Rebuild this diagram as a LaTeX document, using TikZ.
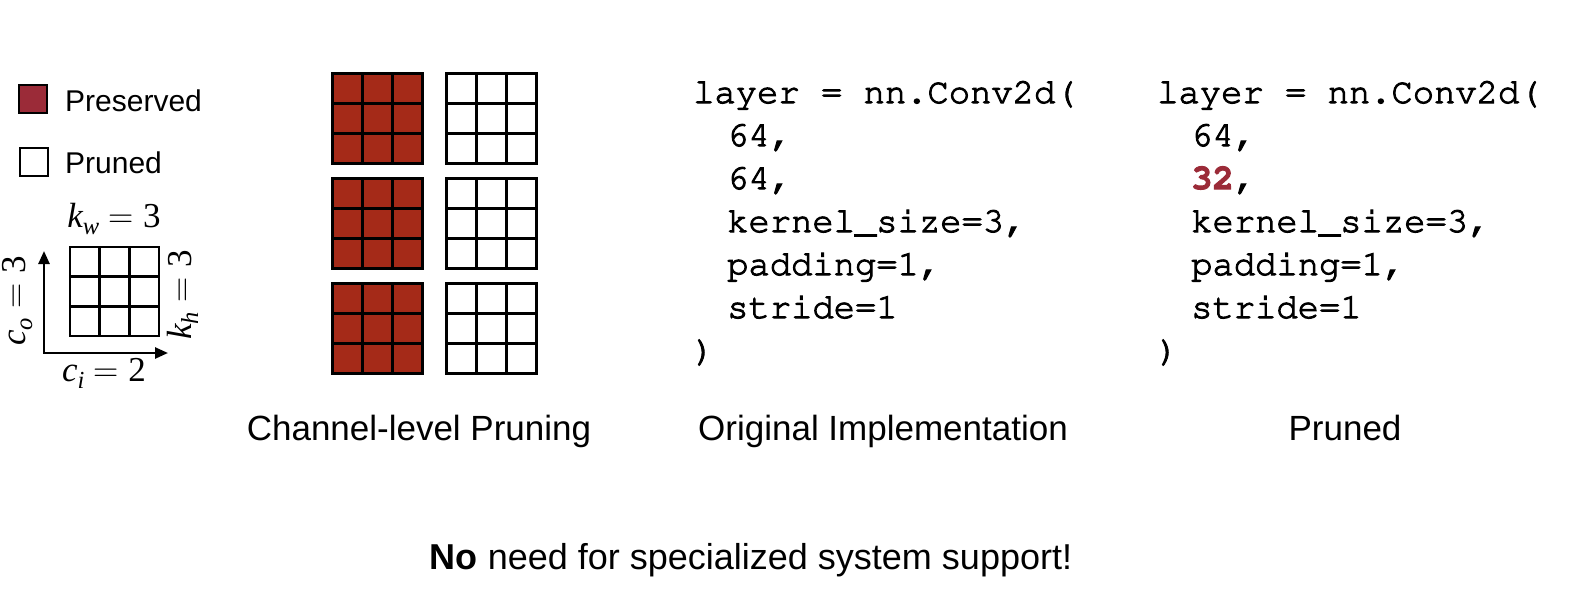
\documentclass[tikz,border=0pt]{standalone}
\usepackage[T1]{fontenc}
\usepackage{fontspec}
\setmainfont{Liberation Sans}
\newfontfamily\tms{Liberation Serif}
\newfontfamily\lmr{Latin Modern Roman}
\newcommand\codefont{\fontencoding{T1}\fontfamily{pcr}\fontseries{m}\selectfont}
\makeatletter
\newcommand\thickon{\pgfsys@invoke{ 2 Tr 1.0 w }}
\newcommand\thickoff{\pgfsys@invoke{ 0 Tr }}
\makeatother
\usetikzlibrary{arrows.meta}
\definecolor{chred}{RGB}{165,42,24}
\definecolor{legred}{RGB}{155,43,56}
\newcommand\mv[2]{{\itshape #1}\raisebox{-0.2em}{\fontsize{24.5}{24.5}\selectfont\itshape #2}}
\newcommand\eqsp{\hspace{0.27em}{\lmr =}\hspace{0.27em}}
\newcommand\kgrid[4]{%
  \fill[#4] (#1,#2) rectangle ++(#3,#3);
  \foreach \q in {1,2}{%
    \draw ({#1+\q*#3/3},#2) -- ++(0,#3);
    \draw (#1,{#2+\q*#3/3}) -- ++(#3,0);
  }
  \draw (#1,#2) rectangle ++(#3,#3);
}
\begin{document}
\begin{tikzpicture}[x=1pt,y=-1pt,
  code/.style={font=\fontsize{35.5}{35.5}\codefont, anchor=base west, inner sep=0pt,
    execute at begin node=\thickon, execute at end node=\thickoff},
  caption/.style={font=\fontsize{35}{35}\selectfont, anchor=base, inner sep=0pt},
  legtext/.style={font=\fontsize{30}{30}\selectfont, anchor=base west, inner sep=0pt},
  legbox/.style={draw, line width=2pt, minimum size=28pt, inner sep=0pt},
  mlabel/.style={font=\tms\fontsize{35}{35}\selectfont, anchor=base, inner sep=0pt},
  axis/.style={line width=2.5pt, {Triangle[length=13pt,width=11pt]}-{Triangle[length=13pt,width=11pt]}}
]
\useasboundingbox (0,0) rectangle (1572,608);

% legend
\node[legbox, fill=legred] (sqp) at (33,99) {};
\node[legtext] (tp) at (65,111) {Preserved};
\node[legbox, fill=white] (sqn) at (33.5,161.5) {};
\node[legtext] (tn) at (65,173) {Pruned};

% small kernel
\begin{scope}[line width=2.5pt]
\kgrid{70}{247}{89}{white}
\end{scope}
\coordinate (org) at (44,353);
\coordinate (yt) at (44,251);
\coordinate (xt) at (168,353);
\draw[axis] (yt) -- (org) -- (xt);
\node[mlabel] (kw) at (114,227) {\mv{k}{w}\eqsp 3};
\node[mlabel] (ci) at (104,381) {\mv{c}{i}\eqsp 2};
\node[mlabel, rotate=90] (co) at (25,301) {\mv{c}{o}\eqsp 3};
\node[mlabel, rotate=90] (kh) at (191,295) {\mv{k}{h}\eqsp 3};

% channel grids
\begin{scope}[line width=3pt]
\foreach \yy in {73,178,283}{
  \kgrid{332}{\yy}{90}{chred}
  \kgrid{446}{\yy}{90}{white}
}
\end{scope}

% original code
\node[code] (a1) at (693,103) {layer = nn.Conv2d(};
\node[code] (a2) at (727,146) {64,};
\node[code] (a3) at (727,189) {64,};
\node[code] (a4) at (727,232) {kernel\_size=3,};
\node[code] (a5) at (727,275) {padding=1,};
\node[code] (a6) at (727,318) {stride=1};
\node[code] (a7) at (693,361) {)};

% pruned code
\node[code] (b1) at (1157,103) {layer = nn.Conv2d(};
\node[code] (b2) at (1191,146) {64,};
\node[code] (b3) at (1191,189) {{\color{legred}\fontseries{b}\selectfont 32},};
\node[code] (b4) at (1191,232) {kernel\_size=3,};
\node[code] (b5) at (1191,275) {padding=1,};
\node[code] (b6) at (1191,318) {stride=1};
\node[code] (b7) at (1157,361) {)};

% captions
\node[caption] (c1) at (419,440) {Channel-level Pruning};
\node[caption] (c2) at (883,440) {Original Implementation};
\node[caption] (c3) at (1345,440) {Pruned};
\node[caption, font=\fontsize{36}{36}\selectfont] (c4) at (751,569) {\textbf{No} need for specialized system support!};
\end{tikzpicture}
\end{document}
